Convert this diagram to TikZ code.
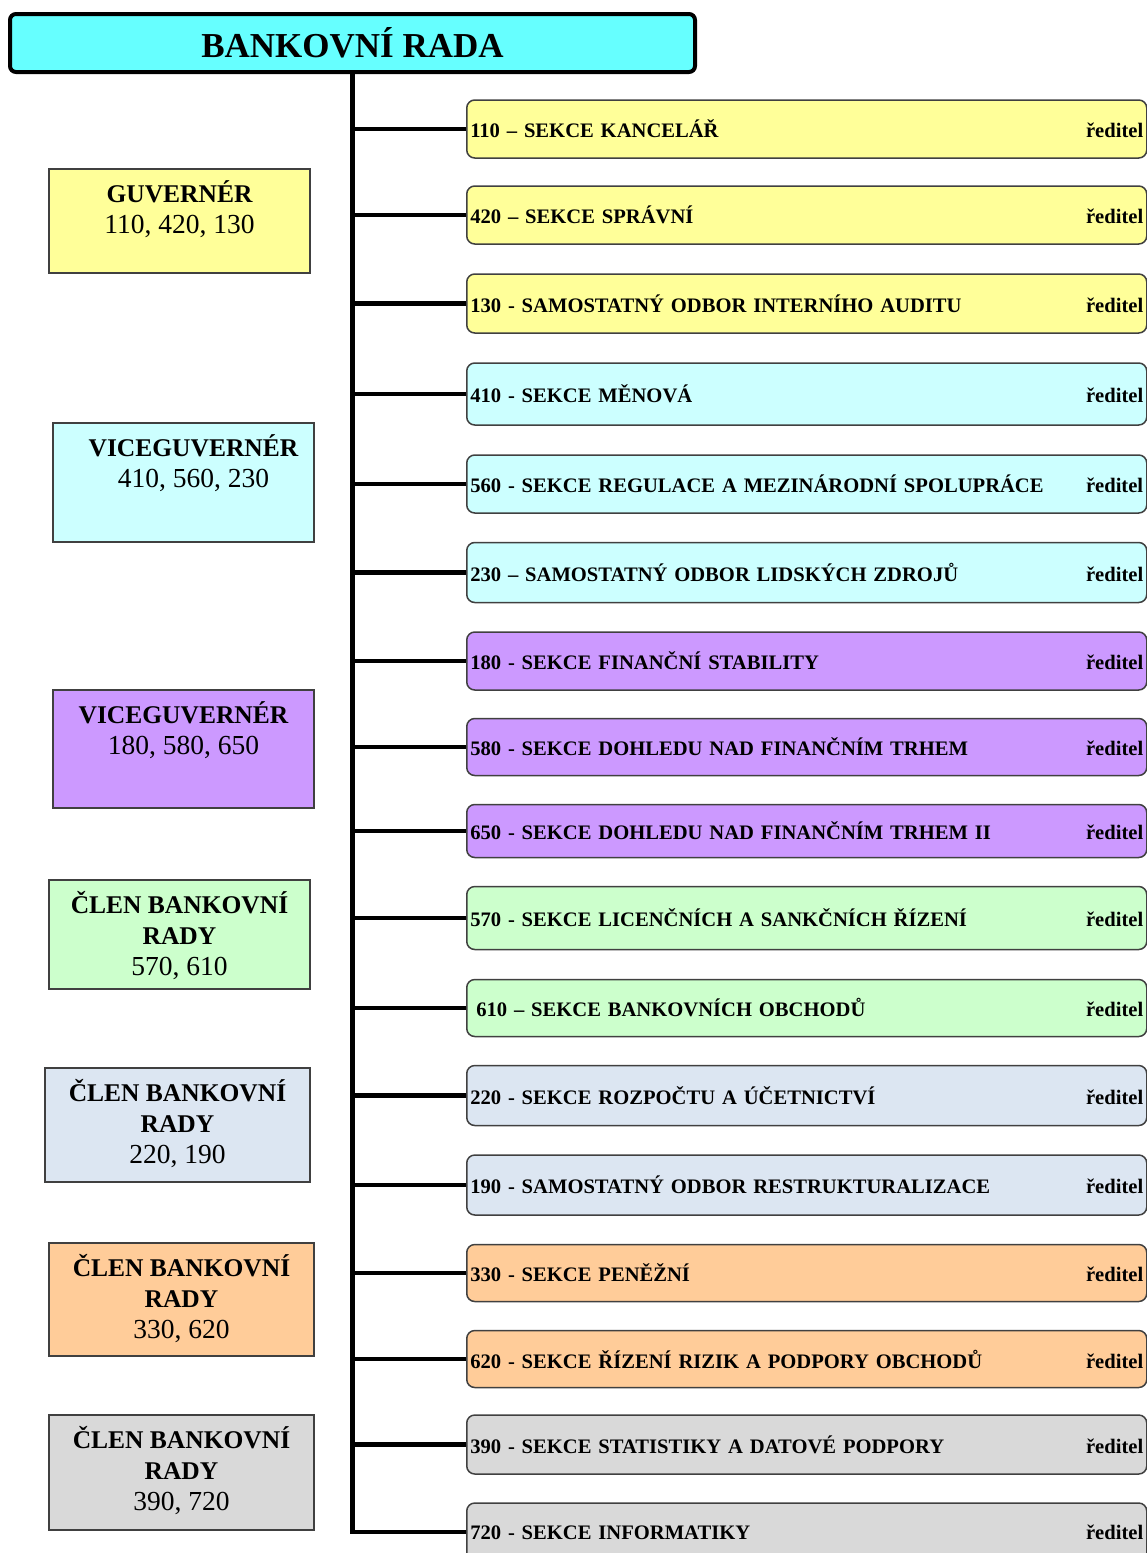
\documentclass[tikz,border=0pt]{standalone}
\usepackage{fontspec}
\setmainfont{Liberation Serif}
\usepackage{tikz}
\usetikzlibrary{positioning}
\definecolor{RadaCyan}{HTML}{66FFFF}
\definecolor{Zluta}{HTML}{FFFF99}
\definecolor{Tyrkys}{HTML}{CCFFFF}
\definecolor{Fialova}{HTML}{CC99FF}
\definecolor{Zelena}{HTML}{CCFFCC}
\definecolor{Modroseda}{HTML}{DCE6F2}
\definecolor{Oranzova}{HTML}{FFCC99}
\definecolor{Seda}{HTML}{D9D9D9}
\definecolor{Obrys}{HTML}{404040}
\newcommand{\cislafont}{\fontsize{27.5}{31}\selectfont}

\begin{document}
\begin{tikzpicture}[
  x=1pt, y=-1pt,
  rada/.style={draw=black, line width=4pt, rounded corners=6pt, fill=RadaCyan,
    minimum width=685pt, minimum height=58pt, font=\fontsize{35}{40}\selectfont\bfseries},
  sekce/.style={draw=Obrys, line width=1.5pt, rounded corners=8pt, anchor=west,
    inner xsep=3.5pt, text width=673pt, align=left, font=\fontsize{20.6}{25}\selectfont\bfseries},
  clen/.style={draw=Obrys, line width=1.2pt},
  clentext/.style={anchor=base, align=center, inner sep=0pt, font=\fontsize{25.5}{31}\selectfont},
  vetev/.style={line width=4.5pt}
]
\useasboundingbox (0,0) rectangle (1147,1553);

\node[rada] (rada) at (352.5,43) {BANKOVNÍ RADA};

% sekce napravo
\node[sekce, fill=Zluta, minimum height=58pt] (s110) at (466,129) {110 – SEKCE KANCELÁŘ\hfill ředitel};
\node[sekce, fill=Zluta, minimum height=58pt] (s420) at (466,215) {420 – SEKCE SPRÁVNÍ\hfill ředitel};
\node[sekce, fill=Zluta, minimum height=59pt] (s130) at (466,303.5) {130 - SAMOSTATNÝ ODBOR INTERNÍHO AUDITU\hfill ředitel};
\node[sekce, fill=Tyrkys, minimum height=62pt] (s410) at (466,394) {410 - SEKCE MĚNOVÁ\hfill ředitel};
\node[sekce, fill=Tyrkys, minimum height=58pt] (s560) at (466,484) {560 - SEKCE REGULACE A MEZINÁRODNÍ SPOLUPRÁCE\hfill ředitel};
\node[sekce, fill=Tyrkys, minimum height=60pt] (s230) at (466,572.5) {230 – SAMOSTATNÝ ODBOR LIDSKÝCH ZDROJŮ\hfill ředitel};
\node[sekce, fill=Fialova, minimum height=58pt] (s180) at (466,661) {180 - SEKCE FINANČNÍ STABILITY\hfill ředitel};
\node[sekce, fill=Fialova, minimum height=57pt] (s580) at (466,747) {580 - SEKCE DOHLEDU NAD FINANČNÍM TRHEM\hfill ředitel};
\node[sekce, fill=Fialova, minimum height=53pt] (s650) at (466,831) {650 - SEKCE DOHLEDU NAD FINANČNÍM TRHEM II\hfill ředitel};
\node[sekce, fill=Zelena, minimum height=63pt] (s570) at (466,918) {570 - SEKCE LICENČNÍCH A SANKČNÍCH ŘÍZENÍ\hfill ředitel};
\node[sekce, fill=Zelena, minimum height=57pt] (s610) at (466,1008) {\hspace{6pt}610 – SEKCE BANKOVNÍCH OBCHODŮ\hfill ředitel};
\node[sekce, fill=Modroseda, minimum height=60pt] (s220) at (466,1095.5) {220 - SEKCE ROZPOČTU A ÚČETNICTVÍ\hfill ředitel};
\node[sekce, fill=Modroseda, minimum height=60pt] (s190) at (466,1185) {190 - SAMOSTATNÝ ODBOR RESTRUKTURALIZACE\hfill ředitel};
\node[sekce, fill=Oranzova, minimum height=57pt] (s330) at (466,1273) {330 - SEKCE PENĚŽNÍ\hfill ředitel};
\node[sekce, fill=Oranzova, minimum height=57pt] (s620) at (466,1359) {620 - SEKCE ŘÍZENÍ RIZIK A PODPORY OBCHODŮ\hfill ředitel};
\node[sekce, fill=Seda, minimum height=59pt] (s390) at (466,1444.5) {390 - SEKCE STATISTIKY A DATOVÉ PODPORY\hfill ředitel};
\node[sekce, fill=Seda, minimum height=58pt] (s720) at (466,1532) {720 - SEKCE INFORMATIKY\hfill ředitel};

% vedeni nalevo
\node[clen, fill=Zluta, minimum width=261pt, minimum height=104pt] (guv) at (179.5,221) {};
\node[clentext] (guvT) at ([yshift=-65pt]guv.north) {{\bfseries GUVERNÉR}\\{\cislafont 110, 420, 130}};
\node[clen, fill=Tyrkys, minimum width=261pt, minimum height=119pt] (vg1) at (183.5,482.5) {};
\node[clentext] (vg1T) at ([xshift=10pt,yshift=-65pt]vg1.north) {{\bfseries VICEGUVERNÉR}\\{\cislafont 410, 560, 230}};
\node[clen, fill=Fialova, minimum width=261pt, minimum height=118pt] (vg2) at (183.5,749) {};
\node[clentext] (vg2T) at ([yshift=-65pt]vg2.north) {{\bfseries VICEGUVERNÉR}\\{\cislafont 180, 580, 650}};
\node[clen, fill=Zelena, minimum width=261pt, minimum height=109pt] (cl1) at (179.5,934.5) {};
\node[clentext] (cl1T) at ([yshift=-96pt]cl1.north) {{\bfseries ČLEN BANKOVNÍ}\\{\bfseries RADY}\\{\cislafont 570, 610}};
\node[clen, fill=Modroseda, minimum width=265pt, minimum height=114pt] (cl2) at (177.5,1125) {};
\node[clentext] (cl2T) at ([yshift=-96pt]cl2.north) {{\bfseries ČLEN BANKOVNÍ}\\{\bfseries RADY}\\{\cislafont 220, 190}};
\node[clen, fill=Oranzova, minimum width=265pt, minimum height=113pt] (cl3) at (181.5,1299.5) {};
\node[clentext] (cl3T) at ([yshift=-96pt]cl3.north) {{\bfseries ČLEN BANKOVNÍ}\\{\bfseries RADY}\\{\cislafont 330, 620}};
\node[clen, fill=Seda, minimum width=265pt, minimum height=115pt] (cl4) at (181.5,1472.5) {};
\node[clentext] (cl4T) at ([yshift=-96pt]cl4.north) {{\bfseries ČLEN BANKOVNÍ}\\{\bfseries RADY}\\{\cislafont 390, 720}};

% kmen a vetve
\draw[vetev] (rada.south) |- (s720.west);
\draw[vetev] (rada.south |- s110.west) -- (s110.west);
\draw[vetev] (rada.south |- s420.west) -- (s420.west);
\draw[vetev] (rada.south |- s130.west) -- (s130.west);
\draw[vetev] (rada.south |- s410.west) -- (s410.west);
\draw[vetev] (rada.south |- s560.west) -- (s560.west);
\draw[vetev] (rada.south |- s230.west) -- (s230.west);
\draw[vetev] (rada.south |- s180.west) -- (s180.west);
\draw[vetev] (rada.south |- s580.west) -- (s580.west);
\draw[vetev] (rada.south |- s650.west) -- (s650.west);
\draw[vetev] (rada.south |- s570.west) -- (s570.west);
\draw[vetev] (rada.south |- s610.west) -- (s610.west);
\draw[vetev] (rada.south |- s220.west) -- (s220.west);
\draw[vetev] (rada.south |- s190.west) -- (s190.west);
\draw[vetev] (rada.south |- s330.west) -- (s330.west);
\draw[vetev] (rada.south |- s620.west) -- (s620.west);
\draw[vetev] (rada.south |- s390.west) -- (s390.west);

\end{tikzpicture}
\end{document}
